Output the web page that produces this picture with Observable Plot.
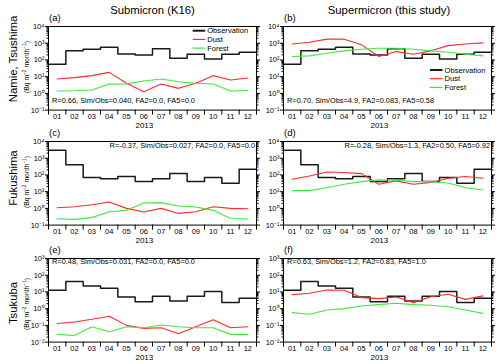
<!DOCTYPE html>
<html><head><meta charset="utf-8">
<script src="https://cdn.jsdelivr.net/npm/d3@7"></script>
<script src="https://cdn.jsdelivr.net/npm/@observablehq/plot@0.6"></script>
<style>
body{margin:0;background:#fff;}
#chart{position:relative;width:500px;height:364px;overflow:hidden;font-family:"Liberation Sans",Arial,Helvetica,sans-serif;background:#fff;}
#chart svg{position:absolute;}
</style></head><body><div id="chart"></div>
<script>
// ---- data ----
const months = [1,2,3,4,5,6,7,8,9,10,11,12];
const monthLabels = ["01","02","03","04","05","06","07","08","09","10","11","12"];
const yearLabel = "2013";
const colTitles = ["Submicron (K16)", "Supermicron (this study)"];
const rowLabels = ["Namie, Tsushima", "Fukushima", "Tsukuba"];
const panelLetters = ["(a)","(b)","(c)","(d)","(e)","(f)"];
const seriesNames = ["Observation","Dust","Forest"];

const obsNamie     = [55, 350, 440, 575, 230, 200, 460, 126, 220, 115, 220, 290];
const obsFukushima = [3000, 400, 70, 60, 80, 40, 60, 120, 40, 70, 32, 220];
const obsTsukuba   = [12.6, 42, 23, 16.6, 5, 2.6, 5.5, 2.9, 5.5, 10.5, 2.3, 4.2];

const dustA   = [7.2, 8.7, 11.5, 18, 4, 1.26, 3.6, 2, 4, 11.5, 6.3, 8.3];
const forestA = [1.4, 1.45, 1.6, 3.6, 3.7, 5.5, 7.2, 5, 4, 3.6, 1.4, 1.5];
const dustB   = [900, 1150, 1750, 1750, 800, 160, 316, 220, 350, 720, 900, 1050];
const forestB = [160, 175, 250, 350, 440, 500, 500, 440, 350, 290, 220, 175];
const dustC   = [1.1, 1.26, 1.66, 2.4, 1.0, 0.6, 1.0, 0.5, 0.63, 1.26, 1.0, 0.95];
const forestC = [0.24, 0.22, 0.28, 0.63, 0.76, 2.1, 2.2, 1.4, 1.2, 0.76, 0.25, 0.23];
const dustD   = [55, 87, 150, 140, 120, 28, 44, 28, 35, 63, 80, 63];
const forestD = [11.5, 11.5, 17, 28, 40, 52, 48, 40, 40, 33, 17, 12.6];
const dustE   = [0.13, 0.16, 0.23, 0.35, 0.1, 0.066, 0.072, 0.032, 0.083, 0.22, 0.072, 0.083];
const forestE = [0.029, 0.025, 0.083, 0.042, 0.083, 0.072, 0.105, 0.083, 0.072, 0.072, 0.029, 0.028];
const dustF   = [6.9, 8.3, 13, 12.6, 4.6, 4, 5, 2.3, 5.2, 7.2, 3.6, 5.8];
const forestF = [0.58, 0.46, 0.83, 1.0, 1.45, 1.74, 2.1, 1.74, 1.6, 1.3, 0.83, 0.52];

const stats = [
  "R=0.66, Sim/Obs=0.040, FA2=0.0, FA5=0.0",
  "R=0.70, Sim/Obs=4.9, FA2=0.083, FA5=0.58",
  "R=-0.37, Sim/Obs=0.027, FA2=0.0, FA5=0.0",
  "R=-0.28, Sim/Obs=1.3, FA2=0.50, FA5=0.92",
  "R=0.48, Sim/Obs=0.031, FA2=0.0, FA5=0.0",
  "R=0.63, Sim/Obs=1.2, FA2=0.83, FA5=1.0"
];

const yDomains = [[0.1, 1e4], [0.1, 1e4], [0.01, 1e3]];

// ---- layout / style ----
const COL_OBS = "#1a1a1a", COL_DUST = "#ff2a2a", COL_FOREST = "#3ee83e";
const FONT = "Liberation Sans, Arial, Helvetica, sans-serif";
const boxTops = [25.7, 141, 258];
const boxH = 83.6;
const cols = [{left: 0, ml: 48, w: 260, mr: 4}, {left: 250, ml: 33, w: 250, mr: 9}];

const panels = [
  {row:0, col:0, obs: obsNamie, dust: dustA, forest: forestA},
  {row:0, col:1, obs: obsNamie, dust: dustB, forest: forestB},
  {row:1, col:0, obs: obsFukushima, dust: dustC, forest: forestC},
  {row:1, col:1, obs: obsFukushima, dust: dustD, forest: forestD},
  {row:2, col:0, obs: obsTsukuba, dust: dustE, forest: forestE},
  {row:2, col:1, obs: obsTsukuba, dust: dustF, forest: forestF}
];

const supMap = {"-":"⁻","0":"⁰","1":"¹","2":"²","3":"³","4":"⁴","5":"⁵","6":"⁶","7":"⁷","8":"⁸","9":"⁹"};
const sup = d => "10" + String(Math.round(Math.log10(d))).split("").map(c => supMap[c]).join("");

const chart = document.getElementById("chart");

panels.forEach(p => {
  const c = cols[p.col];
  const dom = yDomains[p.row];
  const lo = Math.round(Math.log10(dom[0])), hi = Math.round(Math.log10(dom[1]));
  const majors = d3.range(lo, hi + 1).map(e => Math.pow(10, e));
  const minors = d3.range(lo, hi).flatMap(e => d3.range(2, 10).map(k => k * Math.pow(10, e)));
  const bounds = [...months.map(m => m - 0.5), months[months.length - 1] + 0.5];
  const obsStep = months.flatMap((m, i) => [{x: m - 0.5, y: p.obs[i]}, {x: m + 0.5, y: p.obs[i]}]);
  const dust = months.map((m, i) => ({x: m, y: p.dust[i]}));
  const forest = months.map((m, i) => ({x: m, y: p.forest[i]}));
  const mt = 4, mb = 24;
  const svg = Plot.plot({
    width: c.w, height: mt + boxH + mb,
    marginLeft: c.ml, marginRight: c.mr, marginTop: mt, marginBottom: mb,
    style: {background: "transparent", overflow: "visible", fontFamily: FONT, color: "#000"},
    x: {type: "linear", domain: [0.5, 12.5], label: null},
    y: {type: "log", domain: dom, label: null},
    marks: [
      Plot.line(obsStep, {x: "x", y: "y", stroke: COL_OBS, strokeWidth: 1.5}),
      Plot.line(dust, {x: "x", y: "y", stroke: COL_DUST, strokeWidth: 1.1}),
      Plot.line(forest, {x: "x", y: "y", stroke: COL_FOREST, strokeWidth: 1.1}),
      Plot.axisY({ticks: majors, tickSize: 3, tickPadding: 1, tickFormat: sup, fontSize: 7.5, label: null}),
      Plot.axisY({ticks: minors, tickSize: 1.5, tickFormat: () => "", label: null}),
      Plot.axisY({anchor: "right", ticks: majors, tickSize: 3, tickFormat: () => "", label: null}),
      Plot.axisY({anchor: "right", ticks: minors, tickSize: 1.5, tickFormat: () => "", label: null}),
      Plot.axisX({ticks: months, tickSize: 0, tickPadding: 4, tickFormat: m => monthLabels[m - 1], fontSize: 7.5, label: null}),
      Plot.axisX({ticks: bounds, tickSize: 5, tickFormat: () => "", label: null}),
      Plot.frame({stroke: "#000", strokeWidth: 1})
    ]
  });
  svg.style.position = "absolute";
  svg.style.left = c.left + "px";
  svg.style.top = (boxTops[p.row] - mt) + "px";
  chart.appendChild(svg);
});

// ---- overlay text & legends ----
const ov = d3.select(chart).append("svg")
  .attr("width", 500).attr("height", 364)
  .style("left", "0px").style("top", "0px").style("pointer-events", "none")
  .attr("font-family", FONT);

function txt(x, y, s, size, anchor = "start", rot = 0) {
  return ov.append("text").attr("transform", `translate(${x},${y}) rotate(${rot})`)
    .attr("text-anchor", anchor).attr("dominant-baseline", "central")
    .attr("font-size", size).attr("fill", "#000").text(s);
}

const boxLeft = [48, 283], boxRight = [256, 491];
const colCenter = [152.5, 389];
colTitles.forEach((t, i) => txt(colCenter[i], 10, t, 11.3, "middle"));

const rowCenters = [59, 178, 303];
rowLabels.forEach((t, i) => txt(12.5, rowCenters[i], t, 11.3, "middle", -90));

const unitCenters = [67, 182, 304];
unitCenters.forEach(yc => {
  const t = ov.append("text").attr("transform", `translate(26,${yc}) rotate(-90)`)
    .attr("text-anchor", "middle").attr("dominant-baseline", "central").attr("font-size", 6.8);
  t.append("tspan").text("(Bq m");
  t.append("tspan").attr("dy", -2.5).attr("font-size", 4.8).text("−2");
  t.append("tspan").attr("dy", 2.5).text(" month");
  t.append("tspan").attr("dy", -2.5).attr("font-size", 4.8).text("−1");
  t.append("tspan").attr("dy", 2.5).text(")");
});

panels.forEach((p, i) => {
  const top = boxTops[p.row];
  txt(boxLeft[p.col] + 1, top - 8.5, panelLetters[i], 9.5, "start");
  txt(boxLeft[p.col] + 5.5 * (boxRight[p.col] - boxLeft[p.col]) / 12 + 1, top + boxH + 16.3, yearLabel, 8, "middle");
  // statistics
  if (p.row === 1) txt(boxRight[p.col] - 1, top + 4, stats[i], 7.4, "end");
  else if (p.row === 0) txt(boxLeft[p.col] + 4, top + 75, stats[i], 7.4, "start");
  else txt(boxLeft[p.col] + 4, top + 3.5, stats[i], 7.4, "start");
});

// legends
const legendCols = [COL_OBS, COL_DUST, COL_FOREST];
const legendWidths = [2, 1.2, 1.2];
function legend(x, y) {
  seriesNames.forEach((n, k) => {
    const yy = y + k * 8.7;
    ov.append("line").attr("x1", x).attr("x2", x + 12.5).attr("y1", yy).attr("y2", yy)
      .attr("stroke", legendCols[k]).attr("stroke-width", legendWidths[k]);
    txt(x + 14.5, yy, n, 7.6, "start");
  });
}
legend(192.7, 30.7);
legend(430, 70);
</script></body></html>
